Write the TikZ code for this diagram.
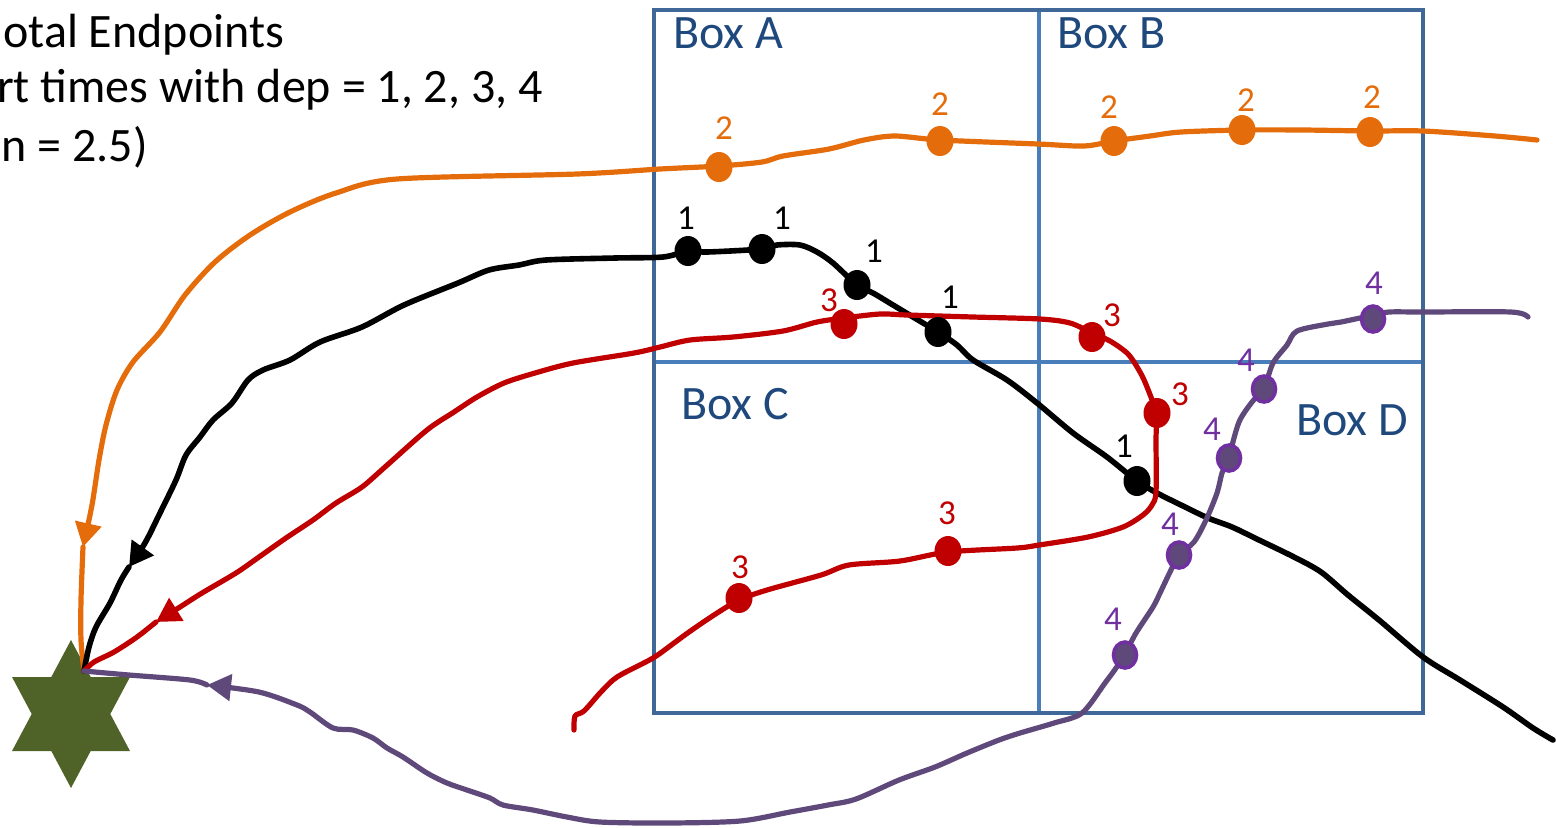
\documentclass[tikz,border=0pt]{standalone}
\usepackage{fontspec}
\setmainfont{Carlito}
\usetikzlibrary{arrows.meta,shapes.geometric}
\definecolor{corange}{HTML}{E46C0A}
\definecolor{cred}{HTML}{C00000}
\definecolor{cpurp}{HTML}{5F497A}
\definecolor{cpurpb}{HTML}{7030A0}
\definecolor{cboxo}{HTML}{3F6797}
\definecolor{cboxi}{HTML}{4A7EBB}
\definecolor{cboxt}{HTML}{1F497D}
\definecolor{cstar}{HTML}{4F6228}
\begin{document}
\begin{tikzpicture}[x=0.5pt,y=-0.5pt,
  trail/.style={line width=2.6pt, line cap=round, line join=round},
  tipA/.style={-{Triangle[length=12pt,width=13pt]}},
  dotbase/.style={ellipse, minimum width=13.5pt, minimum height=15pt, inner sep=0pt},
  odot/.style={dotbase, fill=corange},
  bdot/.style={dotbase, fill=black},
  rdot/.style={dotbase, fill=cred},
  pdot/.style={dotbase, fill=cpurp, draw=cpurpb, line width=1.8pt, minimum width=11.5pt, minimum height=13pt},
  num/.style={font=\fontsize{17.5}{20}\selectfont, inner sep=0pt},
  boxlab/.style={font=\fontsize{24}{28}\selectfont, text=cboxt, inner sep=0pt, anchor=base west},
  toptext/.style={font=\fontsize{24}{28}\selectfont, inner sep=0pt, anchor=base east},
  outerbox/.style={draw=cboxo, line width=2.1pt},
  innerline/.style={draw=cboxi, line width=2.1pt},
]
\useasboundingbox (0,0) rectangle (1556,827);

% title text (as far as the picture shows it)
\node[toptext, anchor=base west] (t1) at (3,47) {otal Endpoints};
\node[toptext] (t2) at (543,102) {rt times with dep = 1, 2, 3, 4};
\node[toptext] (t3) at (148,161) {n = 2.5)};

% boxes
\draw[innerline] (1039,10) -- (1039,713);
\draw[innerline] (654,362) -- (1423,362);
\draw[outerbox] (654,10) rectangle (1423,713);
\node[boxlab] (bxA) at (673,48) {Box A};
\node[boxlab] (bxB) at (1057,48) {Box B};
\node[boxlab] (bxC) at (681,419) {Box C};
\node[boxlab] (bxD) at (1296,435) {Box D};

% star
\fill[cstar] (71,640) -- (90.7,677) -- (130,677) -- (110.3,714) -- (130,751) -- (90.7,751)
  -- (71,788) -- (51.3,751) -- (12,751) -- (31.7,714) -- (12,677) -- (51.3,677) -- cycle;
\coordinate (hub) at (84,671);

% path start and arrow points
\coordinate (oS) at (1537,140); \coordinate (oA) at (83,547);
\coordinate (bS) at (1553,740); \coordinate (bA) at (129,567);
\coordinate (rS) at (574,730);  \coordinate (rA) at (156,622);
\coordinate (pS) at (1528,317); \coordinate (pA) at (207,685);

% orange
\draw[trail, corange, tipA] plot[smooth, tension=0.5] coordinates {(oS) (1495,136) (1423,131)
  (1370,131) (1303,130) (1242,130) (1181,132) (1150,136) (1114,141) (1084,146) (1038,144)
  (940,140) (895,136) (864,140) (829,149) (783,156) (762,162) (719,166) (660,169) (577,174)
  (397,179) (336,193) (290,212) (250,235) (215,262) (185,295) (160,332) (133,362) (117,390)
  (106,425) (99,460) (92,505) (oA)};
\draw[trail, corange] plot[smooth, tension=0.5] coordinates {(oA) (81,600) (81,640) (hub)};

% black
\draw[trail, black, line width=2.8pt, tipA] plot[smooth, tension=0.5] coordinates {(bS) (1533,728)
  (1503,707) (1460,680) (1423,657) (1379,620) (1348,595) (1321,572) (1294,557) (1259,540)
  (1232,527) (1208,518) (1181,505) (1157,493) (1137,481) (1107,457) (1073,433) (1037,403)
  (1007,380) (973,360) (957,345) (938,332) (913,317) (893,305) (873,293) (857,285) (833,263)
  (817,252) (800,245) (777,245) (762,249) (707,252) (688,251) (663,257) (615,258) (546,260)
  (519,265) (489,270) (458,283) (404,305) (362,327) (320,342) (290,360) (263,370) (248,380)
  (232,403) (213,420) (200,437) (186,455) (176,480) (160,513) (145,543) (bA)};
\draw[trail, black, line width=2.8pt] plot[smooth, tension=0.5] coordinates {(bA) (121,580)
  (110,603) (96,627) (89,647) (hub)};

% red
\draw[trail, cred, tipA] plot[smooth, tension=0.5] coordinates {(rS) (575,716) (584,711)
  (600,693) (613,680) (624,673) (653,658) (674,643) (689,632) (714,615) (739,600) (767,590)
  (821,575) (849,565) (900,561) (948,552) (1017,548) (1039,545) (1088,537) (1123,527)
  (1143,515) (1152,505) (1156,492) (1156,440) (1156,413) (1147,387) (1140,372) (1128,354)
  (1110,341) (1092,333) (1070,323) (1040,319) (973,317) (907,315) (880,314) (844,318)
  (817,322) (783,331) (733,337) (690,340) (660,347) (634,353) (573,363) (535,373) (504,383)
  (477,397) (454,412) (427,430) (385,467) (362,487) (336,503) (313,520) (286,538) (259,557)
  (236,573) (202,593) (180,607) (rA)};
\draw[trail, cred] plot[smooth, tension=0.5] coordinates {(rA) (137,637) (114,652) (94,662) (hub)};

% purple
\draw[trail, cpurp, tipA] plot[smooth, tension=0.5] coordinates {(pS) (1511,312) (1423,312)
  (1389,312) (1374,315) (1341,322) (1328,324) (1297,331) (1287,345) (1273,363) (1264,388)
  (1252,402) (1239,422) (1229,456) (1222,473) (1217,493) (1206,520) (1194,542) (1179,555)
  (1170,572) (1160,593) (1153,607) (1136,633) (1125,654) (1116,668) (1105,683) (1082,713)
  (1054,723) (1020,733) (999,740) (967,753) (935,767) (899,780) (856,799) (828,805) (790,812)
  (740,821) (667,823) (600,822) (567,817) (533,810) (503,805) (490,798) (467,790) (447,783)
  (427,773) (403,757) (387,748) (373,738) (353,730) (333,728) (310,712) (297,705) (259,692)
  (pA)};
\draw[trail, cpurp] plot[smooth, tension=0.5] coordinates {(pA) (190,680) (129,675) (hub)};

% dots: orange
\node[odot] (o1) at (719,167) {};
\node[odot] (o2) at (940,141) {};
\node[odot] (o3) at (1114,141) {};
\node[odot] (o4) at (1242,130) {};
\node[odot] (o5) at (1370,132) {};
% dots: black
\node[bdot] (b1) at (688,251) {};
\node[bdot] (b2) at (762,249) {};
\node[bdot] (b3) at (857,285) {};
\node[bdot] (b4) at (938,332) {};
\node[bdot] (b5) at (1137,481) {};
% dots: red
\node[rdot] (r1) at (844,324) {};
\node[rdot] (r2) at (1092,337) {};
\node[rdot] (r3) at (1157,413) {};
\node[rdot] (r4) at (948,551) {};
\node[rdot] (r5) at (739,598) {};
% dots: purple
\node[pdot] (p1) at (1125,655) {};
\node[pdot] (p2) at (1179,555) {};
\node[pdot] (p3) at (1229,458) {};
\node[pdot] (p4) at (1264,389) {};
\node[pdot] (p5) at (1373,319) {};

% labels
\node[num, text=corange] (lo1) at (724,128) {2};
\node[num, text=corange] (lo2) at (940,104) {2};
\node[num, text=corange] (lo3) at (1109,107) {2};
\node[num, text=corange] (lo4) at (1246,100) {2};
\node[num, text=corange] (lo5) at (1372,97) {2};
\node[num, text=black] (lb1) at (686,218) {1};
\node[num, text=black] (lb2) at (782,218) {1};
\node[num, text=black] (lb3) at (874,251) {1};
\node[num, text=black] (lb4) at (950,297) {1};
\node[num, text=black] (lb5) at (1124,446) {1};
\node[num, text=cred] (lr1) at (829,300) {3};
\node[num, text=cred] (lr2) at (1112,315) {3};
\node[num, text=cred] (lr3) at (1180,394) {3};
\node[num, text=cred] (lr4) at (947,513) {3};
\node[num, text=cred] (lr5) at (740,567) {3};
\node[num, text=cpurpb] (lp1) at (1113,619) {4};
\node[num, text=cpurpb] (lp2) at (1170,524) {4};
\node[num, text=cpurpb] (lp3) at (1212,429) {4};
\node[num, text=cpurpb] (lp4) at (1246,360) {4};
\node[num, text=cpurpb] (lp5) at (1374,283) {4};
\end{tikzpicture}
\end{document}
